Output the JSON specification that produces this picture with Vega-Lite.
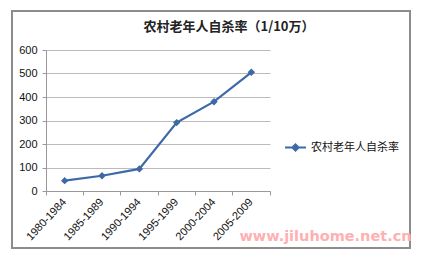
{
  "$schema": "https://vega.github.io/schema/vega-lite/v6.json",
  "width": 398,
  "height": 237,
  "autosize": "none",
  "padding": {"left": 12, "top": 11, "right": 17, "bottom": 11},
  "background": "white",
  "config": {"view": {"stroke": "#8c8c8c", "strokeWidth": 2}},
  "title": {
    "text": "农村老年人自杀率（1/10万）",
    "font": "Noto Sans CJK SC",
    "fontSize": 13,
    "fontWeight": "bold",
    "color": "#222222",
    "anchor": "middle",
    "frame": "group",
    "offset": -29,
    "baseline": "middle",
    "dx": 18
  },
  "data": {
    "values": [
      {"period": "1980-1984", "rate": 44, "series": "农村老年人自杀率"},
      {"period": "1985-1989", "rate": 65, "series": "农村老年人自杀率"},
      {"period": "1990-1994", "rate": 94, "series": "农村老年人自杀率"},
      {"period": "1995-1999", "rate": 291, "series": "农村老年人自杀率"},
      {"period": "2000-2004", "rate": 380, "series": "农村老年人自杀率"},
      {"period": "2005-2009", "rate": 505, "series": "农村老年人自杀率"}
    ]
  },
  "mark": {
    "type": "line",
    "strokeWidth": 2.2,
    "point": {"shape": "diamond", "size": 55, "filled": true}
  },
  "encoding": {
    "x": {
      "field": "period",
      "type": "ordinal",
      "sort": null,
      "scale": {"type": "band", "range": [34, 258], "paddingInner": 0, "paddingOuter": 0},
      "axis": {
        "title": "www.jiluhome.net.cn",
        "titleX": 313,
        "titleY": 45,
        "titleAlign": "center",
        "titleBaseline": "middle",
        "titleAngle": 0,
        "titleColor": "#ffb0b0",
        "titleFontSize": 14.5,
        "titleFont": "DejaVu Sans",
        "titleFontWeight": "bold",
        "offset": -57,
        "bandPosition": 1,
        "tickExtra": true,
        "labelOffset": 0,
        "labelAngle": -47,
        "labelAlign": "right",
        "labelBaseline": "middle",
        "labelPadding": 5,
        "tickSize": 4,
        "domainColor": "#999999",
        "tickColor": "#999999",
        "labelFont": "Liberation Sans",
        "labelFontSize": 11,
        "labelColor": "#111111",
        "grid": false
      }
    },
    "y": {
      "field": "rate",
      "type": "quantitative",
      "scale": {"domain": [0, 600], "range": [180, 39], "nice": false},
      "axis": {
        "values": [0, 100, 200, 300, 400, 500, 600],
        "offset": -34,
        "title": null,
        "tickSize": 4,
        "labelPadding": 5,
        "gridColor": "#bbbbbb",
        "domainColor": "#999999",
        "tickColor": "#999999",
        "labelFont": "Liberation Sans",
        "labelFontSize": 11,
        "labelColor": "#111111"
      }
    },
    "color": {
      "field": "series",
      "type": "nominal",
      "scale": {"range": ["#3d6aa6"]},
      "legend": {
        "title": null,
        "orient": "none",
        "legendX": 272,
        "legendY": 125,
        "symbolType": "M-1,0L1,0M0,-0.3L0.3,0L0,0.3L-0.3,0Z",
        "symbolSize": 440,
        "symbolStrokeWidth": 2,
        "symbolFillColor": "#3d6aa6",
        "labelFont": "Noto Sans CJK SC",
        "labelFontSize": 11,
        "labelColor": "#111111",
        "labelLimit": 200
      }
    }
  }
}
